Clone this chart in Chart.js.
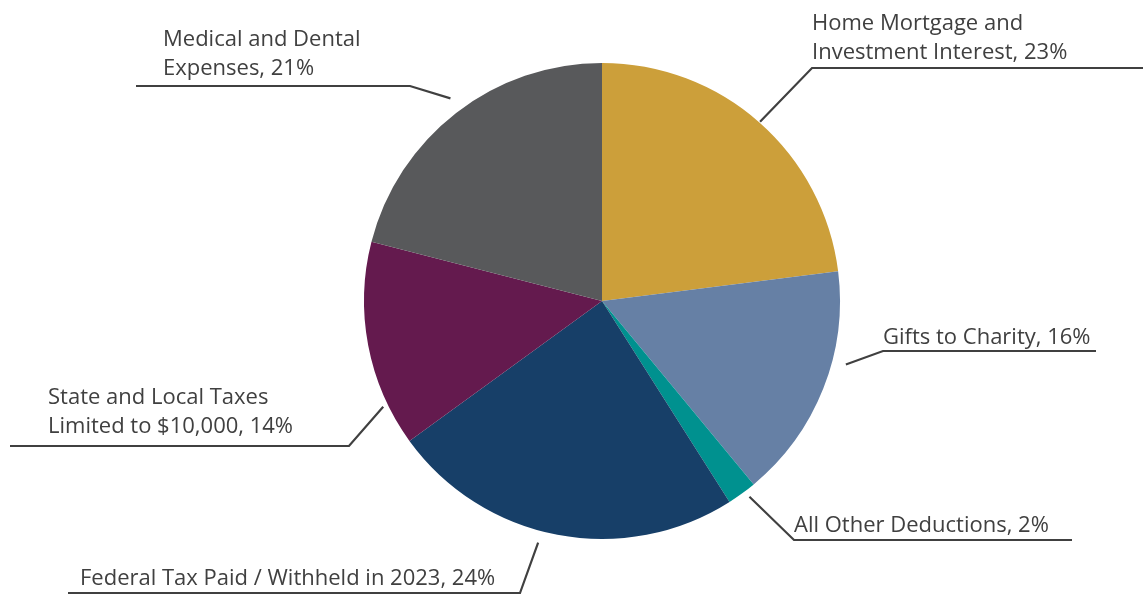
<!DOCTYPE html>
<html>
<head>
<meta charset="utf-8">
<script src="https://cdn.jsdelivr.net/npm/chart.js@4/dist/chart.umd.min.js"></script>
<style>
  html, body { margin: 0; padding: 0; background: #fff; }
  #wrap { width: 1143px; height: 595px; }
</style>
</head>
<body>
<div id="wrap"><canvas id="chart" width="1143" height="595"></canvas></div>
<script>
// data
const categories = [
  "Home Mortgage and Investment Interest",
  "Gifts to Charity",
  "All Other Deductions",
  "Federal Tax Paid / Withheld in 2023",
  "State and Local Taxes Limited to $10,000",
  "Medical and Dental Expenses"
];
const shares = [23, 16, 2, 24, 14, 21];
const colors = ["#CC9F3A", "#6680A5", "#00918F", "#173F68", "#641A4E", "#58595B"];

// how each label is wrapped and where its text sits (annotation layout only)
const labelLines = [
  ["Home Mortgage and", "Investment Interest, 23%"],
  ["Gifts to Charity, 16%"],
  ["All Other Deductions, 2%"],
  ["Federal Tax Paid / Withheld in 2023, 24%"],
  ["State and Local Taxes", "Limited to $10,000, 14%"],
  ["Medical and Dental", "Expenses, 21%"]
];
// gap from pie edge, angle tweak (deg), elbow x/y, rule end x, text x, baseline lift
const labelLayout = [
  { gap: 1,  dAng: 0,   ex: 812, ey: 68,  lx: 1143, tx: 812, dy: 9 },
  { gap: 14, dAng: -7,  ex: 883, ey: 351, lx: 1096, tx: 883, dy: 7 },
  { gap: 7,  dAng: -1,  ex: 794, ey: 540, lx: 1072, tx: 794, dy: 8 },
  { gap: 12, dAng: 4,   ex: 520, ey: 593, lx: 68,   tx: 80,  dy: 8 },
  { gap: 5,  dAng: -15, ex: 349, ey: 446, lx: 10,   tx: 48,  dy: 13 },
  { gap: 15, dAng: 1,   ex: 410, ey: 86,  lx: 136,  tx: 163, dy: 11 }
];

const TEXT = "#404040";
const FONT = '22px "Open Sans", "Noto Sans", sans-serif';

const leaderLabels = {
  id: "leaderLabels",
  afterDraw(chart) {
    const ctx = chart.ctx;
    const arcs = chart.getDatasetMeta(0).data;
    ctx.save();
    ctx.strokeStyle = TEXT;
    ctx.lineWidth = 2.2;
    ctx.fillStyle = TEXT;
    ctx.font = FONT;
    ctx.textAlign = "left";
    ctx.textBaseline = "alphabetic";
    arcs.forEach((arc, i) => {
      const L = labelLayout[i];
      const mid = (arc.startAngle + arc.endAngle) / 2 + L.dAng * Math.PI / 180;
      const r = arc.outerRadius + L.gap;
      const sx = arc.x + Math.cos(mid) * r;
      const sy = arc.y + Math.sin(mid) * r;
      ctx.beginPath();
      ctx.moveTo(sx, sy);
      ctx.lineTo(L.ex, L.ey);
      ctx.lineTo(L.lx, L.ey);
      ctx.stroke();
      const lines = labelLines[i];
      const lh = 29;
      lines.forEach((t, k) => {
        const y = L.ey - L.dy - (lines.length - 1 - k) * lh;
        ctx.fillText(t, L.tx, y);
      });
    });
    ctx.restore();
  }
};

new Chart(document.getElementById("chart"), {
  type: "pie",
  data: {
    labels: categories,
    datasets: [{
      data: shares,
      backgroundColor: colors,
      borderWidth: 0
    }]
  },
  options: {
    responsive: false,
    animation: false,
    layout: { padding: { left: 364, right: 303, top: 63, bottom: 56 } },
    plugins: {
      legend: { display: false },
      tooltip: { enabled: false }
    }
  },
  plugins: [leaderLabels]
});
</script>
</body>
</html>
